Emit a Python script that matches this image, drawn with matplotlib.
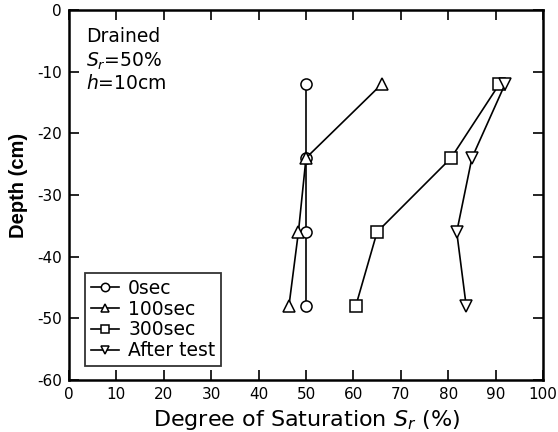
import matplotlib.pyplot as plt
import numpy as np

plt.rcParams['font.family'] = ['DejaVu Sans']
plt.rcParams['mathtext.fontset'] = 'dejavusans'
plt.rcParams['axes.unicode_minus'] = False

depth = [-12, -24, -36, -48]
sr_0sec = [50, 50, 50, 50]
sr_100sec = [66, 50, 48.4, 46.4]
sr_300sec = [90.8, 80.6, 65, 60.5]
sr_after = [92, 85, 81.8, 83.8]

labels = ["0sec", "100sec", "300sec", "After test"]
markers = ["o", "^", "s", "v"]

fig = plt.figure(figsize=(5.58, 4.32), dpi=100)
ax = fig.add_axes([69/558, 1 - 380/432, (543-69)/558, (380-10)/432])

for sr, lab, m in zip([sr_0sec, sr_100sec, sr_300sec, sr_after], labels, markers):
    ax.plot(sr, depth, color="black", lw=1.2, marker=m, ms=8,
            mfc="white", mec="black", mew=1.1, label=lab)

ax.set_xlim(0, 100)
ax.set_ylim(-60, 0)
ax.set_xticks(np.arange(0, 101, 10))
ax.set_yticks(np.arange(-60, 1, 10))
ax.tick_params(direction="in", top=True, right=True, length=7.5, width=1.2,
               labelsize=11, pad=5)
for s in ax.spines.values():
    s.set_linewidth(1.8)

ax.set_xlabel("Degree of Saturation $S_r$ (%)", fontsize=16, labelpad=4)
ax.set_ylabel("Depth (cm)", fontsize=14.5, fontweight="bold",
              family=["Liberation Sans", "DejaVu Sans"])
ax.yaxis.set_label_coords(-0.087, 0.525)

ax.text(3.6, -2.8, "Drained", fontsize=13.5, va="top")
ax.text(3.6, -6.6, "$S_r$=50%", fontsize=13.5, va="top")
ax.text(3.6, -10.4, "$h$=10cm", fontsize=13.5, va="top")

leg = ax.legend(loc="lower left", bbox_to_anchor=(0.034, 0.038), borderaxespad=0,
                fontsize=13.5, markerscale=0.75,
                frameon=True, fancybox=False, edgecolor="black",
                handlelength=1.5, handletextpad=0.5, borderpad=0.3,
                labelspacing=0.1)
leg.get_frame().set_linewidth(1.3)

plt.savefig("out.png", dpi=100)
